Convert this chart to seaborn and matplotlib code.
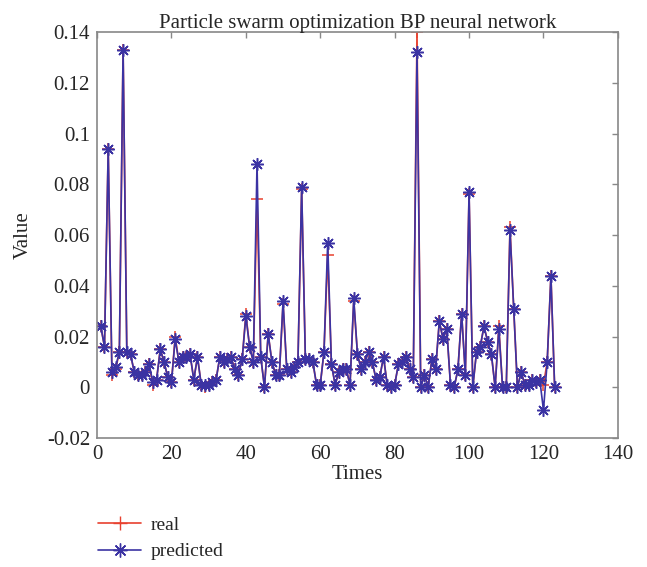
import numpy as np
import pandas as pd
import seaborn as sns
import matplotlib.pyplot as plt
from matplotlib.ticker import FuncFormatter

# 数据
times = list(range(1, 124))
real = [0.024, 0.016, 0.094, 0.005, 0.007, 0.014, 0.133, 0.014, 0.013, 0.006,
        0.005, 0.005, 0.006, 0.009, 0.001, 0.003, 0.015, 0.010, 0.004, 0.002,
        0.020, 0.010, 0.012, 0.012, 0.013, 0.003, 0.012, 0.001, 0.000, 0.001,
        0.002, 0.003, 0.012, 0.010, 0.011, 0.012, 0.007, 0.005, 0.011, 0.029,
        0.016, 0.010, 0.074, 0.012, 0.000, 0.021, 0.010, 0.005, 0.005, 0.033,
        0.007, 0.006, 0.008, 0.010, 0.078, 0.011, 0.011, 0.010, 0.001, 0.001,
        0.014, 0.052, 0.009, 0.001, 0.006, 0.007, 0.007, 0.001, 0.034, 0.013,
        0.007, 0.010, 0.014, 0.010, 0.003, 0.004, 0.012, 0.001, 0.000, 0.001,
        0.009, 0.010, 0.012, 0.007, 0.004, 0.140, 0.000, 0.005, 0.000, 0.011,
        0.007, 0.026, 0.019, 0.023, 0.001, 0.000, 0.007, 0.029, 0.005, 0.076,
        0.000, 0.014, 0.016, 0.024, 0.018, 0.013, 0.000, 0.024, 0.000, 0.000,
        0.063, 0.031, 0.000, 0.006, 0.001, 0.001, 0.003, 0.002, 0.003, 0.001,
        0.010, 0.044, 0.000]
predicted = [0.024, 0.016, 0.094, 0.006, 0.008, 0.014, 0.133, 0.014, 0.013, 0.006,
             0.005, 0.005, 0.006, 0.009, 0.002, 0.003, 0.015, 0.010, 0.004, 0.002,
             0.019, 0.010, 0.012, 0.012, 0.013, 0.003, 0.012, 0.001, 0.001, 0.001,
             0.002, 0.003, 0.012, 0.010, 0.011, 0.012, 0.007, 0.005, 0.011, 0.028,
             0.016, 0.010, 0.088, 0.012, 0.000, 0.021, 0.010, 0.005, 0.005, 0.034,
             0.007, 0.006, 0.008, 0.010, 0.079, 0.011, 0.011, 0.010, 0.001, 0.001,
             0.014, 0.057, 0.009, 0.001, 0.006, 0.007, 0.007, 0.001, 0.035, 0.013,
             0.007, 0.010, 0.014, 0.010, 0.003, 0.004, 0.012, 0.001, 0.000, 0.001,
             0.009, 0.010, 0.012, 0.007, 0.004, 0.132, 0.000, 0.005, 0.000, 0.011,
             0.007, 0.026, 0.019, 0.023, 0.001, 0.000, 0.007, 0.029, 0.005, 0.077,
             0.000, 0.014, 0.016, 0.024, 0.018, 0.013, 0.000, 0.023, 0.000, 0.000,
             0.062, 0.031, 0.000, 0.006, 0.001, 0.001, 0.003, 0.002, 0.003, -0.009,
             0.010, 0.044, 0.000]

df = pd.DataFrame({
    'Times': times * 2,
    'Value': real + predicted,
    'series': ['real'] * len(times) + ['predicted'] * len(times),
})

sns.set_style('white')
plt.rcParams['font.family'] = ['Liberation Serif', 'DejaVu Serif']
plt.rcParams['axes.unicode_minus'] = False

fig = plt.figure(figsize=(6.47, 5.67), dpi=100)
ax = fig.add_axes([0.150, 0.2275, 0.805, 0.716])

red = '#e8412f'
blue = '#3b33a3'
sns.lineplot(data=df, x='Times', y='Value', hue='series', style='series',
             palette={'real': red, 'predicted': blue},
             markers={'real': '+', 'predicted': (8, 2, 0)},
             dashes=False, linewidth=1.2, markersize=9,
             markeredgewidth=1.1, ax=ax, legend=False)
# seaborn 默认白色描边，改成线的颜色
for ln in ax.lines:
    ln.set_markeredgecolor(ln.get_color())

ax.set_xlim(0, 140)
ax.set_ylim(-0.02, 0.14)
ax.set_xticks(np.arange(0, 141, 20))
ax.set_yticks(np.arange(-0.02, 0.1401, 0.02))
ax.yaxis.set_major_formatter(FuncFormatter(lambda v, p: '%g' % round(v, 3)))
ax.tick_params(direction='in', length=4, width=1, color='#888888',
               labelsize=15, top=True, right=True, pad=5)
for s in ax.spines.values():
    s.set_color('#888888')
    s.set_linewidth(1.2)

ax.set_title('Particle swarm optimization BP neural network', fontsize=15, pad=3)
ax.set_xlabel('Times', fontsize=15, labelpad=1)
ax.set_ylabel('Value', fontsize=15, labelpad=10)

handles = [plt.Line2D([], [], color=red, marker='+', markersize=10, lw=1.2),
           plt.Line2D([], [], color=blue, marker=(8, 2, 0), markersize=10, lw=1.2)]
fig.legend(handles, ['real', 'predicted'], loc='upper left',
           bbox_to_anchor=(0.125, 0.12), frameon=False, fontsize=14,
           handlelength=2.2, handletextpad=0.5, labelspacing=0.45)

fig.savefig('out.png', dpi=100)
